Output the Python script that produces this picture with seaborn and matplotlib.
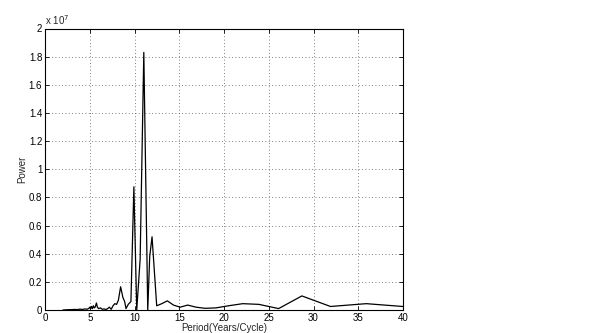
import matplotlib
matplotlib.use("Agg")
import matplotlib.pyplot as plt
import seaborn as sns
import pandas as pd

# Period (years/cycle) and power (units of 1e7)
period = [2.0, 2.5, 3.0, 3.3, 3.6, 3.9, 4.2, 4.5, 4.7, 4.9, 5.0, 5.1, 5.2, 5.3,
          5.4, 5.5, 5.6, 5.7, 5.75, 5.85, 6.0, 6.2, 6.4, 6.6, 6.8, 7.0, 7.2,
          7.4, 7.6, 7.8, 8.0, 8.2, 8.45, 8.7, 8.9, 9.05, 9.3, 9.6, 9.93,
          10.25, 10.63, 11.04, 11.48, 11.7, 11.96, 12.48, 13.05, 13.67, 14.35,
          15.1, 15.94, 16.88, 17.9, 19.1, 20.5, 22.1, 23.9, 26.1, 28.7, 31.9,
          35.9, 41.0]
power = [0.0, 0.002, 0.003, 0.004, 0.003, 0.006, 0.004, 0.008, 0.005, 0.012,
         0.02, 0.008, 0.025, 0.01, 0.03, 0.015, 0.02, 0.04, 0.05, 0.02, 0.01,
         0.015, 0.005, 0.008, 0.003, 0.01, 0.02, 0.005, 0.03, 0.045, 0.04,
         0.07, 0.165, 0.09, 0.06, 0.01, 0.04, 0.06, 0.875, 0.0, 0.36, 1.83,
         0.0, 0.38, 0.52, 0.03, 0.045, 0.065, 0.035, 0.02, 0.035, 0.02, 0.012,
         0.015, 0.03, 0.045, 0.04, 0.01, 0.10, 0.025, 0.045, 0.02]

xticks = [0, 5, 10, 15, 20, 25, 30, 35, 40]
yticks = [0, 0.2, 0.4, 0.6, 0.8, 1, 1.2, 1.4, 1.6, 1.8, 2]
ytick_labels = ["0", "0.2", "0.4", "0.6", "0.8", "1", "1.2", "1.4", "1.6", "1.8", "2"]

df = pd.DataFrame({"period": period, "power": power})

sns.set_style("white")
plt.rcParams["font.family"] = ["Liberation Sans", "DejaVu Sans"]

fig = plt.figure(figsize=(5.94, 3.33), dpi=100)
ax = fig.add_axes([45/594, 23/333, 358/594, 281.5/333])

sns.lineplot(data=df, x="period", y="power", ax=ax, color="black",
             linewidth=0.9, sort=False, estimator=None)

ax.set_xlim(0, 40)
ax.set_ylim(0, 2)
ax.set_xticks(xticks)
ax.set_xticklabels([str(t) for t in xticks])
ax.set_yticks(yticks)
ax.set_yticklabels(ytick_labels)
ax.tick_params(direction="in", length=3, width=0.6, labelsize=7, pad=2,
               top=True, right=True, bottom=True, left=True, colors="black")
ax.grid(True, linestyle=(0, (1, 3)), color="#555555", linewidth=0.6)
for s in ax.spines.values():
    s.set_visible(True)
    s.set_color("black")
    s.set_linewidth(0.8)
ax.set_xlabel("Period(Years/Cycle)", fontsize=7, labelpad=0)
ax.set_ylabel("Power", fontsize=7, labelpad=1)
ax.text(0.0, 1.005, "x 10$^7$", transform=ax.transAxes, fontsize=7,
        ha="left", va="bottom")

fig.savefig("out.png", dpi=100, facecolor="white")
